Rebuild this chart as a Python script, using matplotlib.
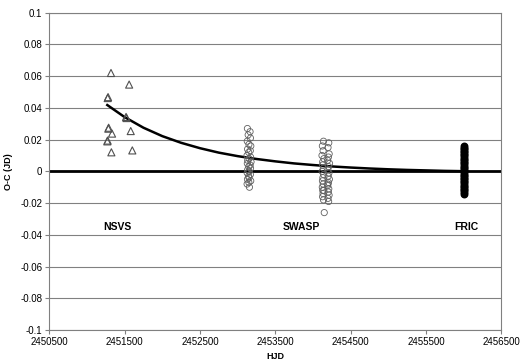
import matplotlib
matplotlib.use("Agg")
import matplotlib.pyplot as plt
import numpy as np

plt.rcParams["font.family"] = ["Liberation Sans", "DejaVu Sans"]

# NSVS minima (open triangles), a few overlap each other
nsvs_hjd = [2451319, 2451560, 2451275, 2451280, 2451519, 2451525, 2451284, 2451288,
            2451333, 2451581, 2451270, 2451274, 2451324, 2451602]
nsvs_oc = [0.062, 0.0547, 0.0462, 0.0468, 0.0343, 0.0336, 0.0269, 0.0275,
           0.0238, 0.0254, 0.0189, 0.0194, 0.0120, 0.0132]

# SWASP minima (open circles), two seasons
swasp_hjd = [2453130, 2453165, 2453140, 2453170, 2453128, 2453150, 2453175, 2453132,
             2453168, 2453147, 2453125, 2453172, 2453152, 2453134, 2453178, 2453129,
             2453166, 2453148, 2453171, 2453133, 2453153, 2453127, 2453169, 2453146,
             2453151, 2453131, 2453174, 2453149, 2453126, 2453157,
             2454140, 2454210, 2454125, 2454200, 2454135, 2454215, 2454120, 2454205,
             2454145, 2454195, 2454130, 2454220, 2454128, 2454208, 2454138, 2454198,
             2454122, 2454212, 2454142, 2454202, 2454132, 2454218, 2454126, 2454206,
             2454136, 2454196, 2454124, 2454210, 2454144, 2454204, 2454134, 2454214,
             2454128, 2454200, 2454140, 2454208, 2454130, 2454198, 2454150]
swasp_oc = [0.027, 0.025, 0.023, 0.021, 0.019, 0.017, 0.016, 0.014,
            0.013, 0.012, 0.010, 0.009, 0.008, 0.007, 0.006, 0.005,
            0.004, 0.003, 0.002, 0.001, 0.000, -0.001, -0.002, -0.003,
            -0.004, -0.005, -0.006, -0.007, -0.008, -0.010,
            0.019, 0.018, 0.016, 0.015, 0.013, 0.011, 0.010, 0.009,
            0.008, 0.007, 0.006, 0.005, 0.004, 0.003, 0.002, 0.001,
            0.000, -0.001, -0.002, -0.003, -0.004, -0.005, -0.006, -0.007,
            -0.008, -0.009, -0.010, -0.011, -0.012, -0.013, -0.014, -0.015,
            -0.016, -0.017, -0.018, -0.019, -0.012, -0.008, -0.026]

# FRIC minima (filled circles)
fric_hjd = [2456010] * 31
fric_oc = [0.016, 0.015, 0.014, 0.013, 0.012, 0.011, 0.010, 0.009, 0.008, 0.007,
           0.006, 0.005, 0.004, 0.003, 0.002, 0.001, 0.000, -0.001, -0.002, -0.003,
           -0.004, -0.005, -0.006, -0.007, -0.008, -0.009, -0.010, -0.011, -0.012,
           -0.013, -0.0145]

# fitted trend
fit_hjd = [2451270, 2451500, 2451750, 2452000, 2452250, 2452500, 2452750, 2453000,
           2453250, 2453500, 2453750, 2454000, 2454250, 2454500, 2454750, 2455000,
           2455250, 2455500, 2455750, 2456000]
fit_oc = [0.0418, 0.0342, 0.0275, 0.0222, 0.0180, 0.0146, 0.0118, 0.0096,
          0.0078, 0.0063, 0.0050, 0.0040, 0.0031, 0.0024, 0.0018, 0.0013,
          0.0009, 0.0006, 0.0003, 0.0001]

x_ticks = np.arange(2450500, 2456501, 1000)
y_ticks = [-0.1, -0.08, -0.06, -0.04, -0.02, 0, 0.02, 0.04, 0.06, 0.08, 0.1]
y_labels = ["-0.1", "-0.08", "-0.06", "-0.04", "-0.02", "0", "0.02", "0.04", "0.06", "0.08", "0.1"]

fig = plt.figure(figsize=(5.2, 3.64), dpi=100)
ax = fig.add_axes([0.0948, 0.0934, 0.8692, 0.8717])

for y in y_ticks:
    ax.axhline(y, color="#808080", linewidth=0.8, zorder=0)

ax.axhline(0, color="black", linewidth=2.0, zorder=1)
ax.plot(fit_hjd, fit_oc, color="black", linewidth=1.8, zorder=2)

ax.scatter(nsvs_hjd, nsvs_oc, marker="^", s=26, facecolors="none",
           edgecolors="#505050", linewidths=0.8, zorder=3)
ax.scatter(swasp_hjd, swasp_oc, marker="o", s=20, facecolors="none",
           edgecolors="#606060", linewidths=0.6, zorder=3)
ax.scatter(fric_hjd, fric_oc, marker="o", s=22, color="black", zorder=3)

ax.text(2451406, -0.035, "NSVS", ha="center", va="center", fontsize=7.5, weight="bold")
ax.text(2453847, -0.035, "SWASP", ha="center", va="center", fontsize=7.5, weight="bold")
ax.text(2456030, -0.035, "FRIC", ha="center", va="center", fontsize=7.5, weight="bold")

ax.set_xlim(2450500, 2456500)
ax.set_ylim(-0.1, 0.1)
ax.set_xticks(x_ticks)
ax.set_xticklabels([str(v) for v in x_ticks])
ax.set_yticks(y_ticks)
ax.set_yticklabels(y_labels)
ax.tick_params(labelsize=7, length=3, width=0.8, color="#808080", pad=2)
for s in ax.spines.values():
    s.set_color("#808080")
    s.set_linewidth(0.8)

ax.set_xlabel("HJD", fontsize=6.5, weight="bold")
ax.xaxis.set_label_coords(0.5, -0.068)
ax.set_ylabel("O-C (JD)", fontsize=6.5, weight="bold", labelpad=5)

fig.savefig("out.png", dpi=100, facecolor="white")
